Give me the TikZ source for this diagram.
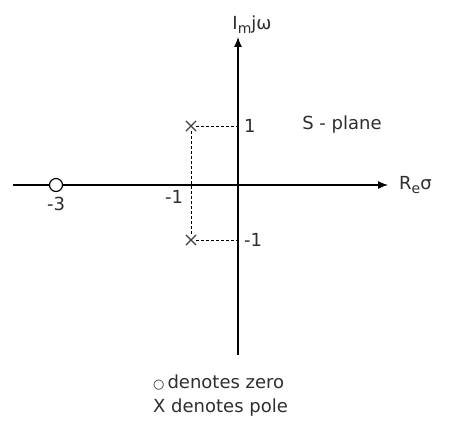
\documentclass[tikz,border=0pt]{standalone}
\usepackage{fontspec}
\setmainfont{DejaVu Sans}
\usepackage{tikz}
\usetikzlibrary{positioning, shapes.misc, arrows.meta}

\begin{document}
\begin{tikzpicture}[x=1pt, y=1pt,
    lbl/.style={text=black!82, font=\fontsize{18}{21}\selectfont, inner sep=1pt},
    pole/.style={cross out, draw=black!75, line width=1.2pt, minimum size=9pt, inner sep=0pt},
    zero/.style={circle, draw, line width=1.2pt, fill=white, minimum size=13pt, inner sep=0pt},
    guide/.style={dash pattern=on 3pt off 2pt, line width=0.7pt}]
      \useasboundingbox (-238,-243) rectangle (230,185);

      % Axes
      \coordinate (o) at (0,0);
      \coordinate (xl) at (-225,0);
      \coordinate (xr) at (150,0);
      \coordinate (yb) at (0,-170);
      \coordinate (yt) at (0,148);
      \draw[-{Latex[length=10pt, width=8pt]}, line width=1.3pt] (xl) -- (xr);
      \draw[-{Latex[length=10pt, width=8pt]}, line width=1.3pt] (yb) -- (yt);

      \node[lbl, right=10pt of xr] (re) {R\raisebox{-0.45ex}{\fontsize{14}{16}\selectfont e}σ};
      \node[lbl, above=2pt of yt, xshift=14pt] (im) {I\raisebox{-0.45ex}{\fontsize{14}{16}\selectfont m}jω};

      % Zero and poles
      \node[zero] (z) at (-182,0) {};
      \node[pole] (p1) at (-47,59) {};
      \node[pole] (p2) at (-47,-55) {};
      \coordinate (i1) at (0,59);
      \coordinate (i2) at (0,-55);

      \draw[guide] (p1) -- (i1);
      \draw[guide] (p2) -- (i2);
      \draw[guide] (p1) -- (p2);

      % Values
      \node[lbl, right=5pt of i1] (one) {1};
      \node[lbl, right=5pt of i2] (mone) {-1};
      \node[lbl] (sig) at (-64,-12) {-1};
      \node[lbl, below=4pt of z] (three) {-3};
      \node[lbl] (plane) at (104,60) {S - plane};

      % Legend
      \node[lbl, anchor=west] (lz) at (-86,-197) {{\fontsize{13}{15}\selectfont ○}\,denotes zero};
      \node[lbl, anchor=west] (lp) at (-86,-223) {X denotes pole};
    \end{tikzpicture}
\end{document}
